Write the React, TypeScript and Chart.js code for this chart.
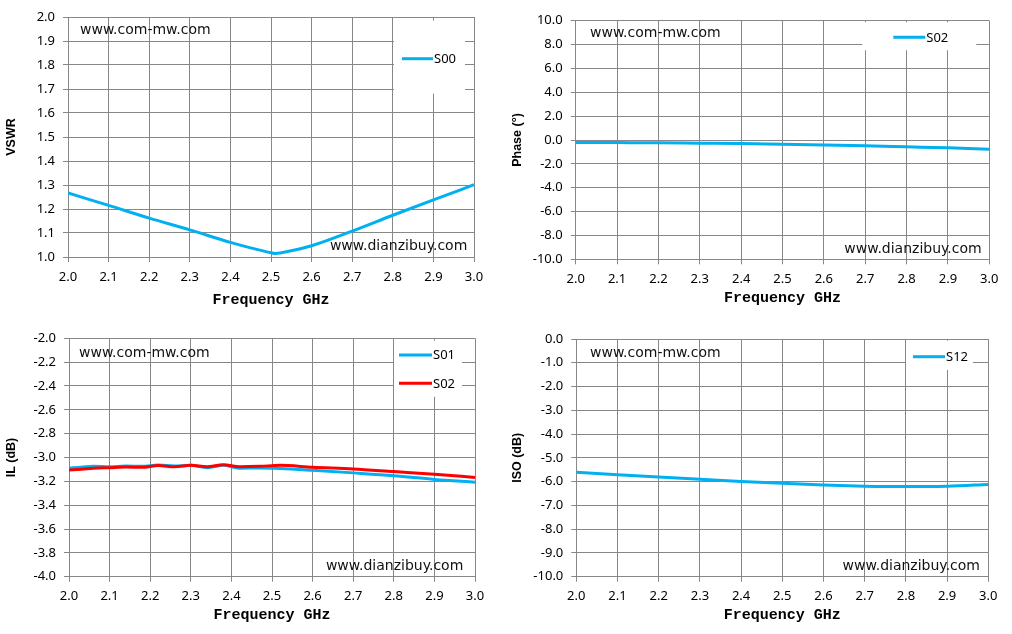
import React, { useEffect, useRef } from 'react';
import { Chart, registerables } from 'chart.js';

Chart.register(...registerables);

const BLUE = '#00B0F0';
const RED = '#FF0000';
const GRID = '#878787';

// VSWR (top left)
const vswrFreq = [2.0, 2.1, 2.2, 2.3, 2.4, 2.45, 2.5, 2.51, 2.55, 2.6, 2.7, 2.8, 2.9, 3.0];
const vswrS00 = [1.267, 1.215, 1.162, 1.113, 1.061, 1.038, 1.018, 1.015, 1.026, 1.047, 1.108, 1.174, 1.238, 1.301];

// Phase (top right)
const phaseFreq = [2.0, 2.1, 2.2, 2.3, 2.4, 2.5, 2.6, 2.7, 2.8, 2.9, 3.0];
const phaseS02 = [-0.2, -0.22, -0.24, -0.27, -0.3, -0.35, -0.41, -0.48, -0.57, -0.66, -0.78];

// Insertion loss (bottom left)
const ilFreq = [2.0, 2.03, 2.06, 2.1, 2.14, 2.18, 2.22, 2.26, 2.3, 2.34, 2.38, 2.42, 2.47, 2.52, 2.6, 2.7, 2.8, 2.9, 3.0];
const ilS01 = [-3.088, -3.082, -3.074, -3.078, -3.071, -3.074, -3.063, -3.071, -3.066, -3.085, -3.066, -3.09, -3.088, -3.092, -3.107, -3.129, -3.153, -3.184, -3.208];
const ilS02 = [-3.104, -3.099, -3.09, -3.085, -3.08, -3.082, -3.068, -3.077, -3.066, -3.077, -3.06, -3.077, -3.074, -3.066, -3.082, -3.096, -3.118, -3.14, -3.167];

// Isolation (bottom right)
const isoFreq = [2.0, 2.1, 2.2, 2.3, 2.4, 2.5, 2.6, 2.7, 2.8, 2.9, 3.0];
const isoS12 = [-5.61, -5.71, -5.81, -5.9, -5.99, -6.07, -6.14, -6.19, -6.21, -6.19, -6.12];

const TICK_FONT = { family: '"Noto Sans"', size: 13 };

interface Series {
  label: string;
  x: number[];
  y: number[];
  color: string;
  order: number;
}

interface PanelProps {
  left: number;
  top: number;
  series: Series[];
  yMin: number;
  yMax: number;
  yStep: number;
  yTitle: string;
  plot: { left: number; top: number; right: number; bottom: number };
  titlePad: number;
  legend: { dx: number; dy: number; w: number; h: number; sx: number; len: number; rows: number[] };
  marks: number[];
}

const W = 506;
const H = 317;

function Panel(p: PanelProps) {
  const canvasRef = useRef<HTMLCanvasElement | null>(null);
  const chartRef = useRef<Chart | null>(null);

  useEffect(() => {
    if (!canvasRef.current) return;
    if (chartRef.current) chartRef.current.destroy();

    const overlay = {
      id: 'overlay',
      afterDraw(chart: Chart) {
        const { ctx, chartArea: a } = chart;
        ctx.save();
        ctx.fillStyle = '#111';
        ctx.font = '14px "DejaVu Sans"';
        ctx.textBaseline = 'middle';
        ctx.textAlign = 'left';
        ctx.fillText('www.com-mw.com', a.left + p.marks[0], a.top + p.marks[1]);
        ctx.textAlign = 'right';
        ctx.fillText('www.dianzibuy.com', a.right + p.marks[2], a.bottom + p.marks[3]);

        // legend box inside the plot area
        const lg = p.legend;
        const bx = a.right + lg.dx;
        const by = a.top + lg.dy;
        ctx.fillStyle = '#fff';
        ctx.fillRect(bx, by, lg.w, lg.h);
        ctx.font = '13px "Noto Sans"';
        ctx.textAlign = 'left';
        p.series.forEach((s, i) => {
          const y = by + lg.rows[i];
          ctx.strokeStyle = s.color;
          ctx.lineWidth = 3;
          ctx.beginPath();
          ctx.moveTo(bx + lg.sx, y);
          ctx.lineTo(bx + lg.sx + lg.len, y);
          ctx.stroke();
          ctx.fillStyle = '#000';
          ctx.fillText(s.label, bx + lg.sx + lg.len + 1, y + 0.5);
        });
        ctx.restore();
      },
    };

    chartRef.current = new Chart(canvasRef.current, {
      type: 'line',
      data: {
        datasets: p.series.map((s) => ({
          label: s.label,
          data: s.x.map((x, i) => ({ x, y: s.y[i] })),
          borderColor: s.color,
          backgroundColor: s.color,
          borderWidth: 3,
          pointRadius: 0,
          cubicInterpolationMode: 'monotone' as const,
          fill: false,
          order: s.order,
        })),
      },
      options: {
        animation: false,
        responsive: true,
        maintainAspectRatio: false,
        layout: {
          padding: { left: 0, top: p.plot.top, right: W - p.plot.right, bottom: 0 },
        },
        plugins: {
          legend: { display: false },
          tooltip: { enabled: false },
        },
        scales: {
          x: {
            type: 'linear',
            min: 2,
            max: 3,
            afterFit: (scale: any) => {
              scale.height = H - p.plot.bottom;
            },
            ticks: {
              stepSize: 0.1,
              color: '#000',
              font: TICK_FONT,
              padding: 7,
              maxRotation: 0,
              autoSkip: false,
              callback: (v: any) => Number(v).toFixed(1),
            },
            grid: { color: GRID, lineWidth: 1, tickLength: 5 },
            border: { color: GRID, width: 1 },
            title: {
              display: true,
              text: 'Frequency GHz',
              color: '#000',
              font: { family: '"Liberation Mono"', size: 15, weight: 'bold' },
              padding: { top: 0, bottom: p.titlePad },
            },
          },
          y: {
            type: 'linear',
            min: p.yMin,
            max: p.yMax,
            afterFit: (scale: any) => {
              scale.width = p.plot.left;
            },
            ticks: {
              stepSize: p.yStep,
              color: '#000',
              font: TICK_FONT,
              padding: 8,
              autoSkip: false,
              callback: (v: any) => Number(v).toFixed(1),
            },
            grid: { color: GRID, lineWidth: 1, tickLength: 5 },
            border: { color: GRID, width: 1 },
            title: {
              display: true,
              text: p.yTitle,
              color: '#000',
              font: { family: '"Liberation Sans"', size: 12.5, weight: 'bold' },
              padding: { top: 4, bottom: 0 },
            },
          },
        },
      },
      plugins: [overlay],
    });

    return () => {
      if (chartRef.current) {
        chartRef.current.destroy();
        chartRef.current = null;
      }
    };
  }, [p]);

  return (
    <div style={{ position: 'absolute', left: p.left, top: p.top, width: W, height: H }}>
      <canvas ref={canvasRef} />
    </div>
  );
}

const panels: PanelProps[] = [
  {
    left: 0,
    top: 0,
    series: [{ label: 'S00', x: vswrFreq, y: vswrS00, color: BLUE, order: 0 }],
    yMin: 1,
    yMax: 2,
    yStep: 0.1,
    yTitle: 'VSWR',
    plot: { left: 68, top: 17, right: 474, bottom: 257 },
    titlePad: 8,
    legend: { dx: -80, dy: 3.7, w: 71, h: 73, sx: 8, len: 31, rows: [38] },
    marks: [12, 13, -6.7, -11],
  },
  {
    left: W,
    top: 0,
    series: [{ label: 'S02', x: phaseFreq, y: phaseS02, color: BLUE, order: 0 }],
    yMin: -10,
    yMax: 10,
    yStep: 2,
    yTitle: 'Phase (°)',
    plot: { left: 69.7, top: 20.7, right: 483.3, bottom: 259.3 },
    titlePad: 10,
    legend: { dx: -127, dy: 1.5, w: 114, h: 28, sx: 31, len: 32, rows: [15.1] },
    marks: [14.3, 12.6, -7.6, -10.3],
  },
  {
    left: 0,
    top: H,
    series: [
      { label: 'S01', x: ilFreq, y: ilS01, color: BLUE, order: 1 },
      { label: 'S02', x: ilFreq, y: ilS02, color: RED, order: 0 },
    ],
    yMin: -4,
    yMax: -2,
    yStep: 0.2,
    yTitle: 'IL (dB)',
    plot: { left: 69, top: 21.3, right: 475, bottom: 259.7 },
    titlePad: 10,
    legend: { dx: -81, dy: 2.4, w: 68, h: 56, sx: 5, len: 33, rows: [14.3, 42.6] },
    marks: [10, 15, -11.7, -10],
  },
  {
    left: W,
    top: H,
    series: [{ label: 'S12', x: isoFreq, y: isoS12, color: BLUE, order: 0 }],
    yMin: -10,
    yMax: 0,
    yStep: 1,
    yTitle: 'ISO (dB)',
    plot: { left: 70.3, top: 22, right: 482.3, bottom: 259.7 },
    titlePad: 10,
    legend: { dx: -82.3, dy: 1.7, w: 67, h: 29.3, sx: 7, len: 32, rows: [16] },
    marks: [13.7, 14.3, -8.3, -10],
  },
];

export default function App() {
  return (
    <div style={{ position: 'absolute', left: 0, top: 0, width: 1012, height: 634, background: '#fff' }}>
      {panels.map((p, i) => (
        <Panel key={i} {...p} />
      ))}
    </div>
  );
}
